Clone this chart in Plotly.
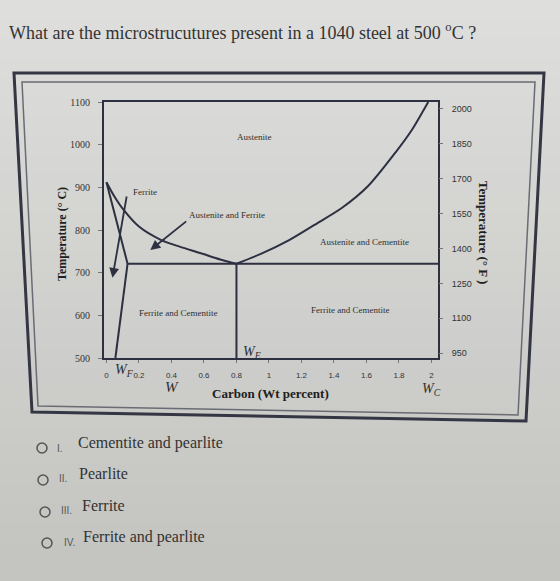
import plotly.graph_objects as go

# ---------------- data ----------------
x_tick_vals = [0, 0.2, 0.4, 0.6, 0.8, 1.0, 1.2, 1.4, 1.6, 1.8, 2.0]
x_tick_text = ["0", "0.2", "0.4", "0.6", "0.8", "1", "1.2", "1.4", "1.6", "1.8", "2"]
c_tick_vals = [500, 600, 700, 800, 900, 1000, 1100]
f_tick_vals = [950, 1100, 1250, 1400, 1550, 1700, 1850, 2000]

# A3 boundary (austenite / austenite+ferrite)
a3_x = [0.0, 0.05, 0.106, 0.2, 0.334, 0.45, 0.577, 0.7, 0.8]
a3_t = [912, 878, 847, 808, 777, 761, 746, 731, 721]
# Acm boundary (austenite / austenite+cementite)
acm_x = [0.8, 0.95, 1.127, 1.28, 1.45, 1.61, 1.785, 1.88, 1.95, 1.98]
acm_t = [721, 744, 777, 812, 852, 903, 985, 1035, 1080, 1100]
# ferrite boundary and solvus
ferr_x = [0.0, 0.13]
ferr_t = [912, 721]
solv_x = [0.13, 0.055]
solv_t = [721, 500]
# eutectoid isotherm and eutectoid composition
eut_x = [0.13, 2.04]
eut_t = [721, 721]
we_x = [0.8, 0.8]
we_t = [500, 721]

x_range = [-0.015, 2.04]
c_range = [500, 1100]
f_range = [929, 2030]

region_labels = [
    ("Austenite", 0.91, 1018),
    ("Austenite and Ferrite", 0.74, 835),
    ("Austenite and Cementite", 1.585, 772),
    ("Ferrite and Cementite", 0.44, 605),
    ("Ferrite and Cementite", 1.50, 612),
]
ferrite_label = ("Ferrite", 0.15, 889)
# pointer arrows: tail x, tail t, head x, head t
arrows = [
    (0.126, 882, 0.037, 688),
    (0.50, 823, 0.27, 753),
]

question = "What are the microstrucutures present in a 1040 steel at 500 <sup>o</sup>C ?"
options = [("I.", "Cementite and pearlite"), ("II.", "Pearlite"),
           ("III.", "Ferrite"), ("IV.", "Ferrite and pearlite")]

# ---------------- layout helpers ----------------
W, H = 560, 581
PL, PR, PT, PB = 104, 438, 102, 358


def px(x):
    return (x - PL) / (PR - PL)


def py(y):
    return (PB - y) / (PB - PT)


LINE = "#2c3040"
SERIF = "Liberation Serif, Times New Roman, serif"
SANS = "Liberation Sans, Arial, sans-serif"

fig = go.Figure()


def add_line(xs, ts, shape="linear"):
    fig.add_trace(go.Scatter(x=xs, y=ts, mode="lines",
                             line=dict(color=LINE, width=2, shape=shape, smoothing=0.8),
                             hoverinfo="skip", showlegend=False))


add_line(a3_x, a3_t, "spline")
add_line(acm_x, acm_t, "spline")
add_line(ferr_x, ferr_t)
add_line(solv_x, solv_t)
add_line(eut_x, eut_t)
add_line(we_x, we_t)

# dummy trace for the Fahrenheit axis
fig.add_trace(go.Scatter(x=[None], y=[None], yaxis="y2", showlegend=False, hoverinfo="skip"))

ann = []


def note(x, y, text, font, xref="paper", yref="paper", xanchor="center", **kw):
    d = dict(x=x, y=y, xref=xref, yref=yref, text=text, showarrow=False,
             xanchor=xanchor, yanchor="middle", font=font)
    d.update(kw)
    ann.append(d)


lab_font = dict(family=SERIF, size=9, color="#303030")
for text, x, t in region_labels:
    note(x, t, text, lab_font, "x", "y")
note(ferrite_label[1], ferrite_label[2], ferrite_label[0], lab_font, "x", "y", xanchor="left")
for tx, tt, hx, ht in arrows:
    ann.append(dict(x=hx, y=ht, ax=tx, ay=tt, xref="x", yref="y", axref="x", ayref="y",
                    text="", showarrow=True, arrowhead=2, arrowsize=1.1, arrowwidth=1.8,
                    arrowcolor=LINE))
w_font = dict(family=SERIF, size=14, color="#303030")
note(px(241), py(352), "<i>W</i><sub><i>E</i></sub>", w_font, xanchor="left")
note(px(113), py(370), "<i>W</i><sub><i>F</i></sub>", w_font, xanchor="left")
note(px(172), py(387), "<i>W</i>", dict(family=SERIF, size=15, color="#303030"))
note(px(431), py(389), "<i>W</i><sub><i>C</i></sub>", w_font)
# axis titles
note(px(270), py(393), "<b>Carbon (Wt percent)</b>", dict(family=SERIF, size=13, color="#202020"))
note(px(62), py(234), "<b>Temperature (° C)</b>", dict(family=SERIF, size=12, color="#202020"),
     textangle=-90)
note(px(484), py(232), "<b>Temperature (° F )</b>", dict(family=SERIF, size=13, color="#202020"),
     textangle=90)
# question and options
note(px(7), py(31), question, dict(family=SERIF, size=18, color="#333333"), xanchor="left")
opt_y = [443, 473, 505, 537]
circ = [(42, 448), (43, 480), (45, 512), (47, 543)]
num_x = [55, 57, 59, 62]
txt_x = [76, 77, 80, 81]
shapes = []
for i, (num, txt) in enumerate(options):
    note(px(num_x[i]), py(opt_y[i] + 5), num, dict(family=SANS, size=10, color="#555555"),
         xanchor="left")
    note(px(txt_x[i]), py(opt_y[i]), txt, dict(family=SERIF, size=16, color="#333333"),
         xanchor="left")
    cx, cy = circ[i]
    shapes.append(dict(type="circle", xref="paper", yref="paper",
                       x0=px(cx - 5), x1=px(cx + 5), y0=py(cy + 5), y1=py(cy - 5),
                       line=dict(color="#555555", width=1.5)))

# photo-like background gradient
nb = 30
top_rgb = (222, 222, 220)
bot_rgb = (196, 196, 193)
for i in range(nb):
    f = i / (nb - 1)
    c = tuple(int(top_rgb[k] + (bot_rgb[k] - top_rgb[k]) * f) for k in range(3))
    y0 = i * H / nb
    y1 = (i + 1) * H / nb + 1
    shapes.append(dict(type="rect", xref="paper", yref="paper", layer="below",
                       x0=px(0), x1=px(W), y0=py(y1), y1=py(y0),
                       line=dict(width=0), fillcolor="rgb(%d,%d,%d)" % c))


def path(pts):
    return "M " + " L ".join("%f,%f" % (px(a), py(b)) for a, b in pts) + " Z"


shapes.append(dict(type="path", xref="paper", yref="paper",
                   path=path([(14, 73), (544, 73), (526, 421), (32, 412)]),
                   line=dict(color="#343644", width=3)))
shapes.append(dict(type="path", xref="paper", yref="paper",
                   path=path([(22, 82), (535, 82), (518, 415), (38, 406)]),
                   line=dict(color="#6a6c74", width=1.5)))

fig.update_layout(
    width=W, height=H,
    margin=dict(l=PL, r=W - PR, t=PT, b=H - PB),
    paper_bgcolor="rgb(214,214,211)",
    plot_bgcolor="rgba(0,0,0,0)",
    showlegend=False,
    xaxis=dict(range=x_range, tickvals=x_tick_vals, ticktext=x_tick_text,
               showgrid=False, zeroline=False, showline=True, linecolor=LINE, linewidth=2,
               mirror=True, ticks="outside", ticklen=3, tickcolor="#777777",
               ticklabelstandoff=5,
               tickfont=dict(family=SANS, size=8, color="#333333")),
    yaxis=dict(range=c_range, tickvals=c_tick_vals, showgrid=False, zeroline=False,
               showline=True, linecolor=LINE, linewidth=2, mirror=True,
               ticks="outside", ticklen=4, tickcolor="#777777", ticklabelstandoff=6,
               tickfont=dict(family=SERIF, size=10, color="#333333")),
    yaxis2=dict(range=f_range, tickvals=f_tick_vals, overlaying="y", side="right",
                showgrid=False, zeroline=False, showline=False,
                ticks="outside", ticklen=4, tickcolor="#777777", ticklabelstandoff=7,
                tickfont=dict(family=SANS, size=9, color="#333333")),
    annotations=ann,
    shapes=shapes,
)

fig.write_html("out.html")
